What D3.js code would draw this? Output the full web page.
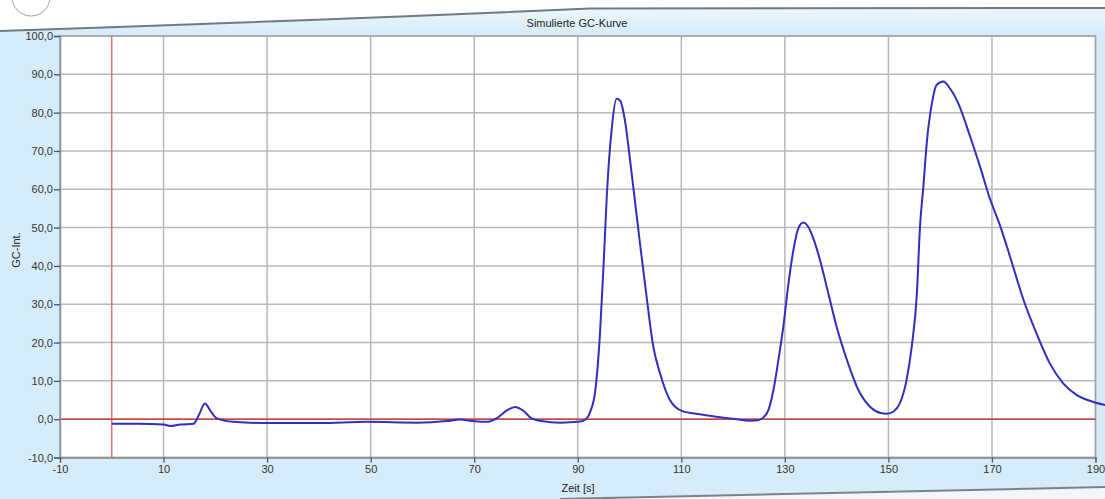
<!DOCTYPE html>
<html>
<head>
<meta charset="utf-8">
<script src="https://cdn.jsdelivr.net/npm/d3@7"></script>
<style>
  html, body { margin: 0; padding: 0; background: #d6ecf8; }
  svg { display: block; font-family: "Liberation Sans", Arial, sans-serif; }
</style>
</head>
<body>
<svg id="chart" width="1105" height="499"></svg>
<script>
// Simulated GC trace: retention time [s] and detector intensity
const zeit = [
  0, 5, 10, 11.3, 13.2, 15.8, 16.8, 18.0, 19.0, 20.3, 23.5, 30, 40, 49.3, 59, 64.7, 67.3, 69.9,
  72.4, 74.4, 76.3, 77.9, 79.5, 81, 83, 86.6, 90.5, 91.5, 92.4, 93.4, 94.3, 95.0, 95.6, 96.6,
  97.5, 98.2, 99.2, 100.1, 101.1, 102.1, 103.3, 104.6, 105.9, 107.8, 110.2, 113.6, 117.5, 120,
  123.3, 124.8, 125.8, 126.8, 127.8, 128.75, 129.7, 130.7, 131.65, 132.6, 133.6, 134.5, 135.5,
  136.8, 138.4, 140.0, 142.0, 144.2, 146.5, 148.5, 149.7, 151.0, 152.2, 153.5, 154.5, 155.5,
  156.1, 156.75, 157.4, 158.4, 159.3, 160.6, 161.9, 163.5, 165.8, 167.7, 169.6, 171.6, 173.5,
  176.1, 178.6, 181.2, 183.8, 186.4, 189.6, 191.9
];
const intensitaet = [
  -1.2, -1.2, -1.4, -1.8, -1.4, -1.2, 1.0, 4.1, 2.3, 0.2, -0.7, -1.0, -1.0, -0.7, -0.9, -0.5, -0.1, -0.5,
  -0.7, 0.3, 2.3, 3.2, 2.2, 0.3, -0.5, -0.9, -0.6, -0.1, 1.9, 7.6, 22.4, 40.6, 58, 76.3,
  83.6, 83.1, 77.2, 67.6, 56.3, 45, 31.9, 18.9, 11.9, 5.0, 2.1, 1.3, 0.5, 0.1,
  -0.4, -0.3, 0.4, 2.3, 7.6, 15.4, 24.1, 35.4, 44.1, 49.8, 51.3, 50.2, 47.2,
  41.5, 32.8, 24.1, 15.4, 7.6, 3.2, 1.6, 1.4, 2.0, 4.1, 10.2, 18.9, 32.8,
  50.2, 60.6, 72, 82.4, 87.2, 88.1, 86.3, 82.4, 73.7, 65.9, 57.6, 50.4, 42.4,
  31.1, 22.4, 14.5, 9.3, 6.3, 4.5, 3.7
];
const xTicks = [-10, 10, 30, 50, 70, 90, 110, 130, 150, 170, 190];
const yTicks = [-10, 0, 10, 20, 30, 40, 50, 60, 70, 80, 90, 100];
const titel = "Simulierte GC-Kurve";
const xTitel = "Zeit [s]";
const yTitel = "GC-Int.";

const W = 1105, H = 499;
const plot = { left: 60, right: 1095.5, top: 36, bottom: 457.5 };

const svg = d3.select("#chart");

// window background and chrome
const defs = svg.append("defs");
const hdr = defs.append("linearGradient").attr("id", "hdr").attr("x1", 0).attr("y1", 0).attr("x2", 0).attr("y2", 1);
hdr.append("stop").attr("offset", "0%").attr("stop-color", "#f4fafd");
hdr.append("stop").attr("offset", "100%").attr("stop-color", "#d6ecf8");

svg.append("rect").attr("width", W).attr("height", H).attr("fill", "#d6ecf8");
svg.append("rect").attr("x", 0).attr("y", 0).attr("width", W).attr("height", 34).attr("fill", "url(#hdr)");
svg.append("path")
  .attr("d", "M0,0 L1105,0 L1105,8 L590,8.5 Q330,20 0,31 Z")
  .attr("fill", "#ffffff");
svg.append("path")
  .attr("d", "M0,31 Q330,20 590,8.5 L1105,8")
  .attr("fill", "none").attr("stroke", "#6f7a84").attr("stroke-width", 2);
svg.append("circle").attr("cx", 31).attr("cy", -3).attr("r", 19)
  .attr("fill", "#ffffff").attr("stroke", "#9aa0a6").attr("stroke-width", 1);
svg.append("path")
  .attr("d", "M560,499 Q840,492 1105,487 L1105,499 Z")
  .attr("fill", "#f3f6f8");
svg.append("path")
  .attr("d", "M560,499 Q840,492 1105,487")
  .attr("fill", "none").attr("stroke", "#7a838b").attr("stroke-width", 2);

// scales
const x = d3.scaleLinear().domain([-10, 190]).range([plot.left, plot.right]);
const y = d3.scaleLinear().domain([-10, 100]).range([plot.bottom, plot.top]);

// plot area
svg.append("rect")
  .attr("x", plot.left).attr("y", plot.top)
  .attr("width", plot.right - plot.left).attr("height", plot.bottom - plot.top)
  .attr("fill", "#ffffff");

// grid
const grid = svg.append("g").attr("stroke", "#b8b8b8").attr("stroke-width", 1.5);
grid.selectAll("line.gx").data(xTicks).join("line")
  .attr("x1", d => x(d)).attr("x2", d => x(d))
  .attr("y1", plot.top).attr("y2", plot.bottom);
grid.selectAll("line.gy").data(yTicks).join("line")
  .attr("x1", plot.left).attr("x2", plot.right)
  .attr("y1", d => y(d)).attr("y2", d => y(d));

// frame
svg.append("rect")
  .attr("x", plot.left).attr("y", plot.top)
  .attr("width", plot.right - plot.left).attr("height", plot.bottom - plot.top)
  .attr("fill", "none").attr("stroke", "#a2a2a2").attr("stroke-width", 1.5);

// reference lines at zero
svg.append("line")
  .attr("x1", plot.left).attr("x2", plot.right)
  .attr("y1", y(0)).attr("y2", y(0))
  .attr("stroke", "#cc2222").attr("stroke-width", 1.2);
svg.append("line")
  .attr("x1", x(0)).attr("x2", x(0))
  .attr("y1", plot.top).attr("y2", plot.bottom)
  .attr("stroke", "#e05050").attr("stroke-width", 1.2);

// axes (German decimal comma, plain hyphen for negatives)
const fmtY = d => d.toFixed(1).replace(".", ",");
const fmtX = d => String(d);
const yAxis = d3.axisLeft(y).tickValues(yTicks).tickFormat(fmtY).tickSize(6).tickPadding(1);
const xAxis = d3.axisBottom(x).tickValues(xTicks).tickFormat(fmtX).tickSize(5).tickPadding(3);

const gy = svg.append("g").attr("transform", `translate(${plot.left},0)`).call(yAxis);
gy.select(".domain").attr("stroke", "#8a94a8").attr("stroke-width", 1.5);
gy.selectAll(".tick line").attr("stroke", "#3a4f9a").attr("stroke-width", 1.3);
gy.selectAll(".tick text").attr("fill", "#333").attr("font-size", 11)
  .attr("font-family", "Liberation Sans, Arial, sans-serif");

const gx = svg.append("g").attr("transform", `translate(0,${plot.bottom})`).call(xAxis);
gx.select(".domain").attr("stroke", "#8a8a8a").attr("stroke-width", 1.5);
gx.selectAll(".tick line").attr("stroke", "#555").attr("stroke-width", 1.3);
gx.selectAll(".tick text").attr("fill", "#333").attr("font-size", 11)
  .attr("font-family", "Liberation Sans, Arial, sans-serif");

// titles
svg.append("text").attr("x", 577).attr("y", 27).attr("text-anchor", "middle")
  .attr("font-size", 11).attr("fill", "#222").text(titel);
svg.append("text").attr("x", 578).attr("y", 492).attr("text-anchor", "middle")
  .attr("font-size", 11).attr("fill", "#222").text(xTitel);
svg.append("text").attr("transform", "translate(20,250) rotate(-90)").attr("text-anchor", "middle")
  .attr("font-size", 11).attr("fill", "#222").text(yTitel);

// trace
const pts = zeit.map((t, i) => [t, intensitaet[i]]);
const line = d3.line().x(d => x(d[0])).y(d => y(d[1])).curve(d3.curveMonotoneX);
svg.append("path").datum(pts)
  .attr("d", line)
  .attr("fill", "none").attr("stroke", "#2f2fc0").attr("stroke-width", 2)
  .attr("stroke-linejoin", "round");
</script>
</body>
</html>
